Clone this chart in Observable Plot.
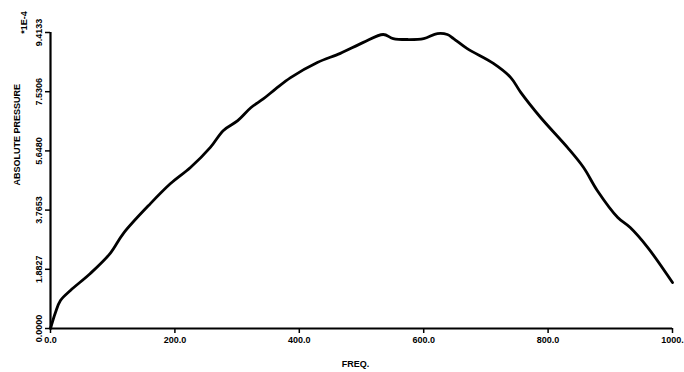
<!DOCTYPE html>
<html>
<head>
<meta charset="utf-8">
<script src="https://cdn.jsdelivr.net/npm/d3@7"></script>
<script src="https://cdn.jsdelivr.net/npm/@observablehq/plot@0.6"></script>
<style>
  html, body { margin: 0; padding: 0; background: #fff; }
  #chart svg { display: block; }
</style>
</head>
<body>
<div id="chart"></div>
<script>
// Frequency values (FREQ.)
const freq = [0, 8, 16, 32, 64, 96, 117, 161, 193, 225, 257, 278, 301, 322, 342, 362, 386, 429, 466, 503, 535, 551, 574, 600, 622, 638, 648, 670, 712, 740, 756, 788, 831, 857, 879, 912, 932, 960, 1000];
// Absolute pressure, in units of 1E-4
const pressure = [0, 0.51, 0.89, 1.21, 1.75, 2.39, 3.02, 3.98, 4.61, 5.12, 5.76, 6.30, 6.61, 7.02, 7.30, 7.62, 7.98, 8.46, 8.75, 9.10, 9.35, 9.22, 9.19, 9.22, 9.38, 9.35, 9.22, 8.90, 8.43, 7.98, 7.51, 6.71, 5.76, 5.12, 4.39, 3.53, 3.21, 2.58, 1.46];

const xTicks = [0, 200, 400, 600, 800, 1000];
const xTickLabels = ["0.0", "200.0", "400.0", "600.0", "800.0", "1000."];
const yTicks = [0, 1.8827, 3.7653, 5.6480, 7.5306, 9.4133];
const yTickLabels = ["0.0000", "1.8827", "3.7653", "5.6480", "7.5306", "9.4133"];

const xTitle = "FREQ.";
const yTitle = "ABSOLUTE PRESSURE";
const multiplier = "*1E-4";

const data = freq.map((f, i) => ({f, p: pressure[i]}));

const font = "Liberation Sans, Arial, sans-serif";

const chart = Plot.plot({
  width: 684,
  height: 372,
  marginLeft: 50,
  marginRight: 12,
  marginTop: 32,
  marginBottom: 44,
  style: {fontFamily: font, fontSize: "9px", fontWeight: "bold", background: "#fff", color: "#000"},
  x: {domain: [0, 1000]},
  y: {domain: [0, 9.4133]},
  marks: [
    Plot.axisX({
      ticks: xTicks,
      tickFormat: (d) => xTickLabels[xTicks.indexOf(d)],
      tickSize: 5,
      tickPadding: 3,
      strokeWidth: 1.5,
      label: null
    }),
    Plot.axisY({
      ticks: yTicks,
      tickFormat: (d) => yTickLabels[yTicks.indexOf(d)],
      tickSize: 5,
      tickPadding: 4,
      tickRotate: -90,
      strokeWidth: 1.5,
      label: null
    }),
    Plot.ruleY([0], {stroke: "#000", strokeWidth: 2.2}),
    Plot.ruleX([0], {stroke: "#000", strokeWidth: 2.2}),
    Plot.line(data, {x: "f", y: "p", stroke: "#000", strokeWidth: 2.8, curve: "catmull-rom", strokeLinejoin: "round"}),
    Plot.text([xTitle], {frameAnchor: "bottom", dy: 38, fontSize: 9, fontWeight: "bold", textAnchor: "middle", dx: -6}),
    Plot.text([yTitle], {frameAnchor: "left", rotate: -90, dx: -33, dy: 5, fontSize: 9, fontWeight: "bold"}),
    Plot.text([multiplier], {frameAnchor: "top-left", rotate: -90, dx: -30, dy: -10, textAnchor: "middle", fontSize: 9, fontWeight: "bold"})
  ]
});

document.getElementById("chart").appendChild(chart);
</script>
</body>
</html>
